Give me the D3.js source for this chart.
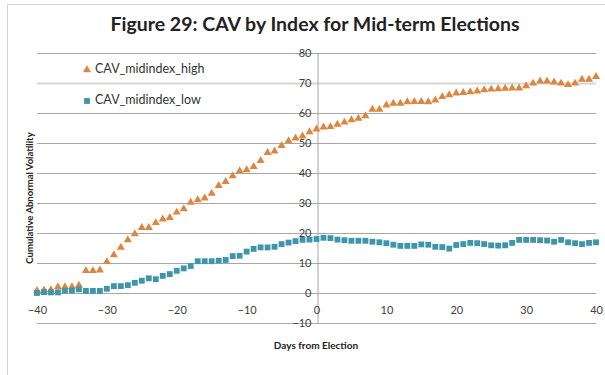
<!DOCTYPE html>
<html><head><meta charset="utf-8">
<script src="https://cdn.jsdelivr.net/npm/d3@7"></script>
<style>html,body{margin:0;padding:0;background:#fff;}svg{display:block;font-family:Lato,"Open Sans",sans-serif;}</style>
</head><body>
<svg id="chart" width="605" height="375"></svg>
<script>
const titleText = "Figure 29: CAV by Index for Mid-term Elections";
const xTitle = "Days from Election";
const yTitle = "Cumulative Abnormal Volatility";
const seriesNames = ["CAV_midindex_high", "CAV_midindex_low"];
const days = d3.range(-40, 41);
const highValues = [0.8,0.9,1.0,2.0,2.0,2.0,2.5,7.4,7.4,7.6,10.4,12.7,15.2,17.7,19.7,21.8,21.8,23.4,24.6,25.1,
  26.9,28.0,30.2,31.0,31.6,33.2,35.8,37.1,39.0,40.7,41.0,42.1,44.1,46.8,47.3,49.1,50.7,51.6,52.3,53.7,
  54.6,55.3,55.4,56.2,56.9,57.7,58.2,59.0,61.2,61.2,62.6,63.2,63.2,63.7,63.8,63.8,63.7,64.3,65.4,66.0,
  66.6,66.8,67.0,67.3,67.7,67.9,68.0,68.2,68.3,68.3,69.0,69.9,70.6,70.6,70.3,69.9,69.4,69.9,71.2,71.2,72.1];
const lowValues = [0.0,0.3,0.2,0.2,0.8,0.8,1.2,0.7,0.7,0.7,1.4,2.3,2.3,2.6,3.4,4.1,4.9,4.6,5.7,6.3,
  7.4,8.2,9.0,10.6,10.6,10.6,10.8,11.0,12.3,12.4,13.8,14.7,15.2,15.2,15.4,16.3,16.8,17.3,17.7,17.8,
  18.0,18.4,18.3,17.8,17.6,17.4,17.4,17.4,17.1,16.9,16.6,16.1,15.7,15.7,15.7,16.2,16.1,15.4,15.3,14.8,
  16.0,16.3,16.7,16.6,16.3,15.9,15.8,15.9,16.7,17.7,17.7,17.7,17.6,17.5,17.1,17.7,16.9,16.6,16.3,16.7,16.9];
const xTicks = [-40,-30,-20,-10,0,10,20,30,40];
const yTicks = [-10,0,10,20,30,40,50,60,70,80];

const svg = d3.select("#chart");
// frame
svg.append("rect").attr("x",7.5).attr("y",4.5).attr("width",605).attr("height",380)
  .attr("fill","#fff").attr("stroke","#d4d4d4");

const x = d3.scaleLinear().domain([-40,40]).range([37,596]);
const y = d3.scaleLinear().domain([-10,80]).range([323,53]);

// gridlines
svg.append("g").selectAll("line").data(yTicks).join("line")
  .attr("x1",x(-40)).attr("x2",x(40))
  .attr("y1",d=>Math.round(y(d))+0.5).attr("y2",d=>Math.round(y(d))+0.5)
  .attr("stroke",d=>d===70?"#d6d6d6":"#a6a6a6").attr("stroke-width",d=>d===70?2:1);

// vertical axis at x=0
const yAxis = d3.axisLeft(y).tickValues(yTicks).tickSize(0).tickPadding(6);
const gy = svg.append("g").attr("transform",`translate(${Math.round(x(0))+0.5},0)`).call(yAxis);
gy.select(".domain").attr("stroke","#a6a6a6");
gy.selectAll("text").attr("font-size",11).attr("fill","#404040").attr("font-family","Lato, sans-serif");

// x axis labels below zero line
const xAxis = d3.axisBottom(x).tickValues(xTicks).tickSize(0).tickPadding(13);
const gx = svg.append("g").attr("transform",`translate(0,${Math.round(y(0))})`).call(xAxis);
gx.select(".domain").remove();
gx.selectAll("text").attr("font-size",11).attr("fill","#404040").attr("font-family","Lato, sans-serif");

const orange = "#DC8641", teal = "#3F96AA";
const tri = d3.symbol().type(d3.symbolTriangle).size(28);
const sq = d3.symbol().type(d3.symbolSquare).size(34);

svg.append("g").selectAll("path").data(days).join("path")
  .attr("d",tri).attr("fill",orange)
  .attr("transform",(d,i)=>`translate(${x(d)},${y(highValues[i])})`);
svg.append("g").selectAll("path").data(days).join("path")
  .attr("d",sq).attr("fill",teal)
  .attr("transform",(d,i)=>`translate(${x(d)},${y(lowValues[i])})`);

// legend
const leg = svg.append("g");
leg.append("path").attr("d",tri).attr("fill",orange).attr("transform","translate(87,70)");
leg.append("text").attr("x",95).attr("y",69).attr("dy","0.35em").attr("font-size",12.5).attr("fill","#333").text(seriesNames[0]);
leg.append("path").attr("d",sq).attr("fill",teal).attr("transform","translate(87,101)");
leg.append("text").attr("x",95).attr("y",100).attr("dy","0.35em").attr("font-size",12.5).attr("fill","#333").text(seriesNames[1]);

// titles
svg.append("text").attr("x",315).attr("y",24).attr("dy","0.35em").attr("text-anchor","middle")
  .attr("font-size",19.5).attr("font-weight","bold").attr("fill","#222").text(titleText);
svg.append("text").attr("x",316).attr("y",345).attr("dy","0.35em").attr("text-anchor","middle")
  .attr("font-size",10).attr("font-weight","bold").attr("fill","#222").text(xTitle);
svg.append("text").attr("transform","translate(30,198) rotate(-90)").attr("dy","0.35em").attr("text-anchor","middle")
  .attr("font-size",9.5).attr("font-weight","bold").attr("fill","#222").text(yTitle);
</script>
</body></html>
